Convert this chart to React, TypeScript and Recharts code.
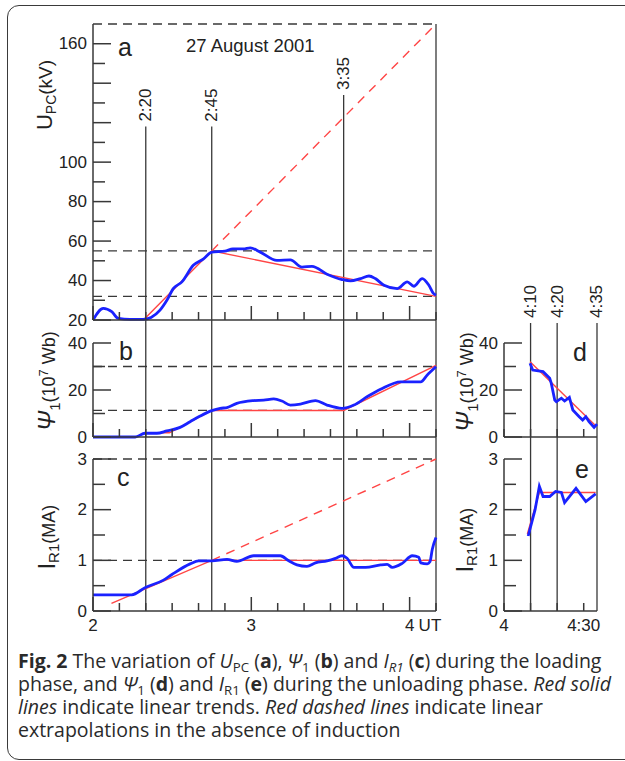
import { LineChart, Line, XAxis, YAxis, ReferenceLine } from "recharts";

// panel a: U_PC (kV), minutes after 2:00 UT
const aTime = [0, 3.9, 7.1, 9.6, 14, 19, 22, 25.4, 28, 30.5, 33.7, 38, 41.9, 45, 50, 53, 57, 59.6, 63.4, 69.7, 74.8, 79.2, 83, 88.7, 94.4, 97.6, 101.4, 104.6, 107, 110.3, 115.3, 119.1, 121.6, 124.8, 127.3, 129, 130];
const aValues = [20, 25.9, 24.2, 20.8, 20.3, 20.3, 21.3, 25, 30, 36, 39.3, 47.7, 51, 54.4, 54.9, 56, 56, 56.6, 54.4, 50.2, 50.5, 46.8, 47.2, 43.2, 40.5, 39.8, 41, 42.3, 41, 37.6, 35.9, 39.3, 37.1, 41, 37.6, 33.5, 32.6];
const aTrendTime = [19.1, 45, 130];
const aTrendValues = [20, 55, 32];
const aExtrapTime = [45, 130];
const aExtrapValues = [55, 170];
const aLevels = [170, 55, 32];

// panel b: Psi_1 (10^7 Wb)
const bTime = [0, 16, 19.7, 24.2, 28, 33, 36.8, 40.6, 45, 48.2, 50.8, 54.5, 60.9, 64.7, 68.5, 71.6, 74.8, 78.6, 84.3, 88.7, 94.4, 98.9, 104, 109, 116.6, 124.2, 126.7, 130];
const bValues = [0, 0, 1.6, 1.6, 2.6, 4.1, 6.5, 8.9, 11.2, 12.2, 12.5, 14.3, 15.5, 15.7, 16.2, 15.3, 13.6, 14, 15.5, 13.6, 12.2, 13.6, 17.2, 20.3, 23.5, 23.5, 26.4, 29.9];
const bTrendTime = [19.5, 29, 45, 95, 130];
const bTrendValues = [1.8, 1.8, 11.3, 11.3, 30.5];
const bLevels = [30, 11.3];

// panel c: I_R1 (MA)
const cTime = [0, 14.7, 19.7, 26.7, 29.9, 36.8, 40, 45, 50.8, 54.5, 60.9, 71, 74.2, 77.3, 81.1, 84.3, 88.7, 91.9, 94.4, 96.3, 98.9, 103.3, 109, 111.5, 113.4, 117.2, 121, 123.5, 124.2, 126.7, 127.7, 128.6, 130];
const cValues = [0.32, 0.32, 0.46, 0.61, 0.72, 0.93, 0.99, 0.99, 1.02, 0.98, 1.09, 1.09, 0.99, 0.91, 0.88, 0.95, 0.99, 1.04, 1.09, 1.04, 0.86, 0.86, 0.91, 0.92, 0.86, 0.94, 1.09, 1.06, 0.95, 0.93, 0.97, 1.22, 1.45];
const cTrendTime = [7, 45, 130];
const cTrendValues = [0.15, 1, 1];
const cExtrapTime = [45, 130];
const cExtrapValues = [1, 3];
const cLevels = [3, 1];

// panels d, e: minutes after 4:00 UT
const dTime = [9.8, 10.8, 12.9, 14.7, 17.2, 17.8, 19.1, 19.7, 21.6, 22.8, 24.6, 25.9, 28.3, 29.6, 30.8, 32, 33.9, 35];
const dValues = [31.4, 28.5, 28.1, 27.8, 25, 22.8, 15.7, 15, 16.5, 15.3, 16.9, 11.5, 8.6, 7.2, 8.6, 6.5, 4.1, 5.5];
const dTrendTime = [9.8, 34.6];
const dTrendValues = [32, 4.7];
const eTime = [9.1, 11.7, 13.3, 14.7, 17.2, 19.4, 21.6, 22.8, 27.1, 30.8, 34.5];
const eValues = [1.48, 2.0, 2.46, 2.26, 2.26, 2.36, 2.34, 2.14, 2.42, 2.16, 2.31];
const eTrendTime = [8.8, 13.3, 34.5];
const eTrendValues = [1.52, 2.34, 2.34];

// markers and ticks
const loadTimes = [20, 45, 95];
const loadLabels = ["2:20", "2:45", "3:35"];
const unloadTimes = [10, 20, 35];
const unloadLabels = ["4:10", "4:20", "4:35"];
const loadXTicks = [0, 10, 20, 30, 40, 50, 60, 70, 80, 90, 100, 110, 120, 130];
const loadXLabels: Record<number, string> = { 0: "2", 60: "3", 120: "4 UT" };
const unloadXTicks = [0, 10, 20, 30];
const unloadXLabels: Record<number, string> = { 0: "4", 30: "4:30" };
const aYTicks = [20, 30, 40, 50, 60, 70, 80, 90, 100, 110, 120, 130, 140, 150, 160];
const aYLabels = [20, 40, 60, 80, 100, 160];
const psiYTicks = [0, 10, 20, 30, 40];
const psiYLabels = [0, 20, 40];
const irYTicks = [0, 0.5, 1, 1.5, 2, 2.5, 3];
const irYLabels = [0, 1, 2, 3];

const BLUE = "#1a22ff";
const RED = "#ff4545";
const INK = "#383838";
const FONT = '"Liberation Sans", Arial, sans-serif';

const pts = (t: number[], v: number[]) => t.map((x, i) => ({ t: x, v: v[i] }));

function LeftTick({ x, y, payload, every, labels }: any) {
  const v = payload.value;
  const major = Math.abs(v / every - Math.round(v / every)) < 1e-6;
  const show = labels.includes(v);
  return (
    <g>
      <line x1={x} x2={x + (major ? 18 : 12)} y1={y} y2={y} stroke={INK} strokeWidth={1.5} />
      {show && (
        <text x={x - 6} y={y} textAnchor="end" dominantBaseline="central" fontSize={17} fill="#222" fontFamily={FONT}>
          {String(v)}
        </text>
      )}
    </g>
  );
}

function BottomTick({ x, y, payload, labels, hourEvery }: any) {
  const v = payload.value;
  const long = hourEvery && v % hourEvery === 0;
  const lab: string | undefined = labels ? labels[v] : undefined;
  const parts = lab ? lab.split(" ") : [];
  return (
    <g>
      <line x1={x} x2={x} y1={y} y2={y - (long ? 14 : 8)} stroke={INK} strokeWidth={1.5} />
      {lab && (
        <text x={x} y={y + 20} textAnchor="middle" fontSize={17} fill="#222" fontFamily={FONT}>
          {parts[0]}
        </text>
      )}
      {parts[1] && (
        <text x={x + 9} y={y + 20} textAnchor="start" fontSize={17} fill="#222" fontFamily={FONT}>
          {parts[1]}
        </text>
      )}
    </g>
  );
}

function VLabel({ viewBox, text }: any) {
  const x = viewBox?.x ?? 0;
  const y = (viewBox?.y ?? 0) - 5;
  return (
    <text x={x} y={y} transform={`rotate(-90 ${x} ${y})`} textAnchor="start" dominantBaseline="central" fontSize={17} fill="#222" fontFamily={FONT}>
      {text}
    </text>
  );
}

const axisLine = { stroke: INK, strokeWidth: 1.5 };
const vline = { stroke: INK, strokeWidth: 1.3, ifOverflow: "visible" as const };

const rot = (cx: number, cy: number): React.CSSProperties => ({
  position: "absolute",
  left: cx,
  top: cy,
  transform: "translate(-50%, -50%) rotate(-90deg)",
  whiteSpace: "nowrap",
  lineHeight: 1,
});

const abs = (left: number, top: number, size: number): React.CSSProperties => ({
  position: "absolute",
  left,
  top,
  fontSize: size,
  lineHeight: 1,
  whiteSpace: "nowrap",
});

const sub: React.CSSProperties = { fontSize: "0.68em", verticalAlign: "-0.3em", lineHeight: 0 };
const sup: React.CSSProperties = { fontSize: "0.68em", verticalAlign: "0.55em", lineHeight: 0 };

export default function App() {
  return (
    <div style={{ position: "absolute", left: 0, top: 0, width: 625, height: 761, overflow: "hidden", background: "#fff", fontFamily: FONT, color: "#222" }}>
      <div style={{ position: "absolute", left: 7, top: 5, width: 660, height: 755, border: "1.5px solid #3a3a3a", borderRadius: 12, boxSizing: "border-box" }} />

      {/* a */}
      <div style={{ position: "absolute", left: 0, top: 0 }}>
        <LineChart width={625} height={343} margin={{ top: 24, right: 189, bottom: 22, left: 43 }}>
          <XAxis type="number" dataKey="t" domain={[0, 130]} ticks={loadXTicks} interval={0} height={1} tickSize={0} tickMargin={0} tickLine={false} axisLine={axisLine} tick={(p: any) => <BottomTick {...p} hourEvery={60} />} />
          <YAxis type="number" domain={[20, 170]} ticks={aYTicks} interval={0} width={50} tickSize={0} tickMargin={0} tickLine={false} axisLine={axisLine} tick={(p: any) => <LeftTick {...p} every={20} labels={aYLabels} />} />
          {aLevels.map((lv) => (
            <ReferenceLine key={lv} y={lv} stroke={INK} strokeWidth={1.3} strokeDasharray="9 6" />
          ))}
          {loadTimes.map((t, i) => (
            <ReferenceLine key={t} {...vline} segment={[{ x: t, y: 8.3 }, { x: t, y: i === 2 ? 134 : 118 }]} label={<VLabel text={loadLabels[i]} />} />
          ))}
          <ReferenceLine {...vline} segment={[{ x: 130, y: 8.3 }, { x: 130, y: 170 }]} />
          <Line data={pts(aExtrapTime, aExtrapValues)} dataKey="v" stroke={RED} strokeWidth={1.4} strokeDasharray="9 7" dot={false} isAnimationActive={false} />
          <Line data={pts(aTrendTime, aTrendValues)} dataKey="v" stroke={RED} strokeWidth={1.4} dot={false} isAnimationActive={false} />
          <Line data={pts(aTime, aValues)} dataKey="v" type="monotone" stroke={BLUE} strokeWidth={2.8} dot={false} isAnimationActive={false} />
        </LineChart>
      </div>

      {/* b */}
      <div style={{ position: "absolute", left: 0, top: 327 }}>
        <LineChart width={625} height={132} margin={{ top: 16, right: 189, bottom: 21, left: 43 }}>
          <XAxis type="number" dataKey="t" domain={[0, 130]} ticks={loadXTicks} interval={0} height={1} tickSize={0} tickMargin={0} tickLine={false} axisLine={axisLine} tick={(p: any) => <BottomTick {...p} hourEvery={60} />} />
          <YAxis type="number" domain={[0, 40]} ticks={psiYTicks} interval={0} width={50} tickSize={0} tickMargin={0} tickLine={false} axisLine={axisLine} tick={(p: any) => <LeftTick {...p} every={20} labels={psiYLabels} />} />
          {bLevels.map((lv) => (
            <ReferenceLine key={lv} y={lv} stroke={INK} strokeWidth={1.3} strokeDasharray="9 6" />
          ))}
          {[...loadTimes, 130].map((t) => (
            <ReferenceLine key={t} {...vline} segment={[{ x: t, y: -9.4 }, { x: t, y: 40 }]} />
          ))}
          <Line data={pts(bTrendTime, bTrendValues)} dataKey="v" stroke={RED} strokeWidth={1.4} dot={false} isAnimationActive={false} />
          <Line data={pts(bTime, bValues)} dataKey="v" type="monotone" stroke={BLUE} strokeWidth={2.8} dot={false} isAnimationActive={false} />
        </LineChart>
      </div>

      {/* c */}
      <div style={{ position: "absolute", left: 0, top: 443 }}>
        <LineChart width={625} height={200} margin={{ top: 16, right: 189, bottom: 0, left: 43 }}>
          <XAxis type="number" dataKey="t" domain={[0, 130]} ticks={loadXTicks} interval={0} height={32} tickSize={0} tickMargin={0} tickLine={false} axisLine={axisLine} tick={(p: any) => <BottomTick {...p} hourEvery={60} labels={loadXLabels} />} />
          <YAxis type="number" domain={[0, 3]} ticks={irYTicks} interval={0} width={50} tickSize={0} tickMargin={0} tickLine={false} axisLine={axisLine} tick={(p: any) => <LeftTick {...p} every={1} labels={irYLabels} />} />
          {cLevels.map((lv) => (
            <ReferenceLine key={lv} y={lv} stroke={INK} strokeWidth={1.3} strokeDasharray="9 6" />
          ))}
          {[...loadTimes, 130].map((t) => (
            <ReferenceLine key={t} x={t} stroke={INK} strokeWidth={1.3} />
          ))}
          <Line data={pts(cExtrapTime, cExtrapValues)} dataKey="v" stroke={RED} strokeWidth={1.4} strokeDasharray="9 7" dot={false} isAnimationActive={false} />
          <Line data={pts(cTrendTime, cTrendValues)} dataKey="v" stroke={RED} strokeWidth={1.4} dot={false} isAnimationActive={false} />
          <Line data={pts(cTime, cValues)} dataKey="v" type="monotone" stroke={BLUE} strokeWidth={2.8} dot={false} isAnimationActive={false} />
        </LineChart>
      </div>

      {/* d */}
      <div style={{ position: "absolute", left: 0, top: 270 }}>
        <LineChart width={625} height={189} margin={{ top: 73, right: 28, bottom: 21, left: 454 }}>
          <XAxis type="number" dataKey="t" domain={[0, 35]} ticks={unloadXTicks} interval={0} height={1} tickSize={0} tickMargin={0} tickLine={false} axisLine={axisLine} tick={(p: any) => <BottomTick {...p} />} />
          <YAxis type="number" domain={[0, 40]} ticks={psiYTicks} interval={0} width={50} tickSize={0} tickMargin={0} tickLine={false} axisLine={axisLine} tick={(p: any) => <LeftTick {...p} every={20} labels={psiYLabels} />} />
          {unloadTimes.map((t, i) => (
            <ReferenceLine key={t} {...vline} segment={[{ x: t, y: -9.4 }, { x: t, y: 48.5 }]} label={<VLabel text={unloadLabels[i]} />} />
          ))}
          <Line data={pts(dTrendTime, dTrendValues)} dataKey="v" stroke={RED} strokeWidth={1.4} dot={false} isAnimationActive={false} />
          <Line data={pts(dTime, dValues)} dataKey="v" stroke={BLUE} strokeWidth={2.8} dot={false} isAnimationActive={false} />
        </LineChart>
      </div>

      {/* e */}
      <div style={{ position: "absolute", left: 0, top: 443 }}>
        <LineChart width={625} height={200} margin={{ top: 16, right: 28, bottom: 0, left: 454 }}>
          <XAxis type="number" dataKey="t" domain={[0, 35]} ticks={unloadXTicks} interval={0} height={32} tickSize={0} tickMargin={0} tickLine={false} axisLine={axisLine} tick={(p: any) => <BottomTick {...p} labels={unloadXLabels} />} />
          <YAxis type="number" domain={[0, 3]} ticks={irYTicks} interval={0} width={50} tickSize={0} tickMargin={0} tickLine={false} axisLine={axisLine} tick={(p: any) => <LeftTick {...p} every={1} labels={irYLabels} />} />
          {unloadTimes.map((t) => (
            <ReferenceLine key={t} x={t} stroke={INK} strokeWidth={1.3} />
          ))}
          <Line data={pts(eTrendTime, eTrendValues)} dataKey="v" stroke={RED} strokeWidth={1.4} dot={false} isAnimationActive={false} />
          <Line data={pts(eTime, eValues)} dataKey="v" stroke={BLUE} strokeWidth={2.8} dot={false} isAnimationActive={false} />
        </LineChart>
      </div>

      {/* panel texts */}
      <div style={abs(118, 35, 25)}>a</div>
      <div style={abs(186, 37, 18.5)}>27 August 2001</div>
      <div style={abs(119, 339, 25)}>b</div>
      <div style={abs(117, 465, 25)}>c</div>
      <div style={abs(573, 340, 25)}>d</div>
      <div style={abs(575, 457, 25)}>e</div>

      <div style={rot(45, 95)}>
        <span style={{ fontSize: 22 }}>U</span>
        <span style={{ ...sub, fontSize: 14 }}>PC</span>
        <span style={{ fontSize: 19 }}>(kV)</span>
      </div>
      <div style={rot(47, 381)}>
        <span style={{ fontSize: 24, fontStyle: "italic" }}>Ψ</span>
        <span style={{ ...sub, fontSize: 15 }}>1</span>
        <span style={{ fontSize: 18 }}>(10</span>
        <span style={{ ...sup, fontSize: 13 }}>7</span>
        <span style={{ fontSize: 18 }}> Wb)</span>
      </div>
      <div style={rot(47, 537)}>
        <span style={{ fontSize: 23 }}>I</span>
        <span style={{ ...sub, fontSize: 15 }}>R1</span>
        <span style={{ fontSize: 18 }}>(MA)</span>
      </div>
      <div style={rot(465, 382)}>
        <span style={{ fontSize: 24, fontStyle: "italic" }}>Ψ</span>
        <span style={{ ...sub, fontSize: 15 }}>1</span>
        <span style={{ fontSize: 18 }}>(10</span>
        <span style={{ ...sup, fontSize: 13 }}>7</span>
        <span style={{ fontSize: 18 }}> Wb)</span>
      </div>
      <div style={rot(465, 540)}>
        <span style={{ fontSize: 23 }}>I</span>
        <span style={{ ...sub, fontSize: 15 }}>R1</span>
        <span style={{ fontSize: 18 }}>(MA)</span>
      </div>

      {/* caption */}
      <div style={{ position: "absolute", left: 18, top: 649, fontFamily: '"Open Sans", "Noto Sans", sans-serif', fontSize: 19.5, lineHeight: "23px", color: "#2a2a2a", whiteSpace: "nowrap" }}>
        <div>
          <b>Fig. 2</b> The variation of <i>U</i><span style={sub}>PC</span> (<b>a</b>), <i>Ψ</i><span style={sub}>1</span> (<b>b</b>) and <i>I</i><span style={sub}><i>R1</i></span> (<b>c</b>) during the loading
        </div>
        <div>
          phase, and <i>Ψ</i><span style={sub}>1</span> (<b>d</b>) and <i>I</i><span style={sub}>R1</span> (<b>e</b>) during the unloading phase. <i>Red solid</i>
        </div>
        <div>
          <i>lines</i> indicate linear trends. <i>Red dashed lines</i> indicate linear
        </div>
        <div>extrapolations in the absence of induction</div>
      </div>
    </div>
  );
}
